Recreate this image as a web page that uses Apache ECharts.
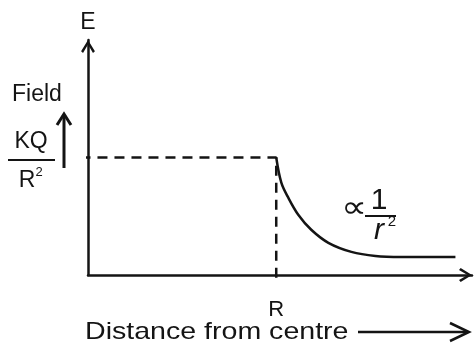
<!DOCTYPE html>
<html>
<head>
<meta charset="utf-8">
<script src="https://cdn.jsdelivr.net/npm/echarts@6/dist/echarts.min.js"></script>
<style>
  html, body { margin: 0; padding: 0; background: #ffffff; }
  #chart { width: 476px; height: 351px; }
</style>
</head>
<body>
<div id="chart"></div>
<script>
// Distance from the centre in units of R; field in units of KQ/R^2.
const curveDistance = [1, 1.027, 1.064, 1.117, 1.186, 1.277, 1.399, 1.527, 1.665, 1.952];
const curveField    = [1, 0.786, 0.658, 0.513, 0.385, 0.274, 0.197, 0.162, 0.154, 0.154];

// Dashed guide: constant field KQ/R^2 up to r = R, then a drop line at R.
const guideDistance = [-0.04, 1, 1];
const guideField    = [1, 1, -0.06];

// Tick labels on the distance axis.
const xTickLabels = { 1: 'R' };

const INK = '#141414';
const FONT = '"Liberation Sans", Arial, Helvetica, sans-serif';

const chart = echarts.init(document.getElementById('chart'), null, { renderer: 'canvas' });

// Open chevron used for the axis arrow heads (tip at the top of the box).
const chevron = 'path://M5,0 L10,8.2 L8.6,9.4 L5,3.2 L1.4,9.4 L0,8.2 Z';

const pairs = (xs, ys) => xs.map((x, i) => [x, ys[i]]);

chart.setOption({
  backgroundColor: '#ffffff',
  animation: false,
  grid: { left: 88, top: 40, width: 384, height: 235 },
  xAxis: {
    type: 'value',
    min: 0,
    max: 2.04,
    interval: 1,
    axisLine: {
      show: true,
      lineStyle: { color: INK, width: 2.5 },
      symbol: ['none', chevron],
      symbolSize: [22, 13],
      symbolOffset: [0, -6.5]
    },
    axisTick: { show: false },
    splitLine: { show: false },
    axisLabel: {
      show: true,
      margin: 24,
      color: INK,
      fontSize: 22,
      fontFamily: FONT,
      formatter: v => xTickLabels[v] || ''
    }
  },
  yAxis: {
    type: 'value',
    min: 0,
    max: 2,
    name: 'E',
    nameLocation: 'end',
    nameGap: 6,
    nameTextStyle: { color: INK, fontSize: 23, fontFamily: FONT },
    axisLine: {
      show: true,
      onZero: false,
      lineStyle: { color: INK, width: 2.5 },
      symbol: ['none', chevron],
      symbolSize: [20, 13],
      symbolOffset: [0, -6.5]
    },
    axisTick: { show: false },
    axisLabel: { show: false },
    splitLine: { show: false }
  },
  series: [
    {
      name: 'guide',
      type: 'line',
      data: pairs(guideDistance, guideField),
      symbol: 'none',
      clip: false,
      lineStyle: { color: INK, width: 2.5, type: [10, 7] },
      z: 3
    },
    {
      name: 'field',
      type: 'line',
      data: pairs(curveDistance, curveField),
      smooth: 0.35,
      symbol: 'none',
      clip: false,
      lineStyle: { color: INK, width: 2.5 },
      z: 4
    }
  ],
  graphic: [
    // "Field" with an upward arrow
    { type: 'text', left: 12, top: 83,
      style: { text: 'Field', font: '23px ' + FONT, fill: INK } },
    { type: 'line', shape: { x1: 64, y1: 168, x2: 64, y2: 116 },
      style: { stroke: INK, lineWidth: 3 } },
    { type: 'polyline', shape: { points: [[57, 125], [64, 114], [71, 125]] },
      style: { stroke: INK, lineWidth: 3, fill: null } },

    // KQ / R^2 at the level of the dashed line
    { type: 'text', x: 31, y: 142,
      style: { text: 'KQ', font: '23px ' + FONT, fill: INK, textAlign: 'center', textVerticalAlign: 'middle' } },
    { type: 'line', shape: { x1: 8, y1: 160, x2: 55, y2: 160 },
      style: { stroke: INK, lineWidth: 2 } },
    { type: 'text', x: 27, y: 181,
      style: { text: 'R', font: '23px ' + FONT, fill: INK, textAlign: 'center', textVerticalAlign: 'middle' } },
    { type: 'text', x: 39, y: 172,
      style: { text: '2', font: '13px ' + FONT, fill: INK, textAlign: 'center', textVerticalAlign: 'middle' } },

    // proportional to 1 / r^2
    { type: 'text', x: 354, y: 209, scaleX: 1.2,
      style: { text: '\u221D', font: '30px "DejaVu Sans", sans-serif', fill: INK, textAlign: 'center', textVerticalAlign: 'middle' } },
    { type: 'text', x: 379, y: 201,
      style: { text: '1', font: '30px ' + FONT, fill: INK, textAlign: 'center', textVerticalAlign: 'middle' } },
    { type: 'line', shape: { x1: 365, y1: 216, x2: 396, y2: 216 },
      style: { stroke: INK, lineWidth: 2 } },
    { type: 'text', x: 379, y: 231,
      style: { text: 'r', font: 'italic 30px ' + FONT, fill: INK, textAlign: 'center', textVerticalAlign: 'middle' } },
    { type: 'text', x: 392, y: 222,
      style: { text: '2', font: '15px ' + FONT, fill: INK, textAlign: 'center', textVerticalAlign: 'middle' } },

    // Axis caption with its arrow
    { type: 'text', x: 85, y: 332, scaleX: 1.19,
      style: { text: 'Distance from centre', font: '24px ' + FONT, fill: INK, textAlign: 'left', textVerticalAlign: 'middle' } },
    { type: 'line', shape: { x1: 358, y1: 332, x2: 468, y2: 332 },
      style: { stroke: INK, lineWidth: 2.5 } },
    { type: 'polyline', shape: { points: [[450, 323], [469, 332], [450, 341]] },
      style: { stroke: INK, lineWidth: 2.5, fill: null } }
  ]
});
</script>
</body>
</html>
